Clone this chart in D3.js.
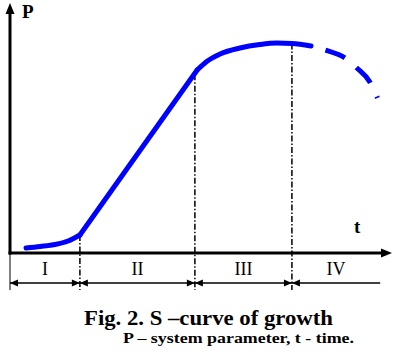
<!DOCTYPE html>
<html><head><meta charset="utf-8">
<script src="https://cdn.jsdelivr.net/npm/d3@7"></script>
<style>body{margin:0;background:#fff}svg{display:block}</style>
</head><body>
<script>
// Data: stage I (toe), stage II (straight growth), stage III (saturation), stage IV (decline, dashed)
const toeT = [4.2, 7.9, 11.8, 15.2, 18.3];
const toeP = [2.0, 2.6, 3.4, 4.8, 7.2];
const linT = [18.3, 49.0];
const linP = [7.2, 73.2];
const topT = [49.0, 51.5, 55.0, 60.2, 65.4, 69.9, 73.8, 78.8];
const topP = [73.2, 76.6, 79.6, 82.0, 83.4, 84.0, 83.8, 82.8];
const dashT = [78.8, 82.5, 87.7, 90.8, 94.2, 96.2];
const dashP = [82.8, 81.2, 78.0, 74.0, 68.4, 62.0];
const stageBounds = [0, 18.3, 48.4, 73.8];
const stageEnd = 96.9;
const stageLabels = ["I", "II", "III", "IV"];
const boundTopP = [7.2, 71.5, 83.8];
const axisLabels = {y: "P", x: "t"};
const caption1 = "Fig. 2. S \u2013curve of growth";
const caption2 = "P \u2013 system parameter, t - time.";

const W = 400, H = 358;
const svg = d3.select("body").append("svg").attr("width", W).attr("height", H);
const x = d3.scaleLinear().domain([0, 100]).range([10, 392]);
const y = d3.scaleLinear().domain([0, 100]).range([253, 3]);
const serif = "'Liberation Serif','Times New Roman',serif";
const blue = "#0000ff";

// axes
svg.append("line").attr("x1", x(0)).attr("y1", y(0) + 1.5).attr("x2", x(0)).attr("y2", y(100) + 8)
  .attr("stroke", "#000").attr("stroke-width", 3);
svg.append("path").attr("d", `M${x(0)},${y(100)} L${x(0)-4.5},${y(100)+11} L${x(0)+4.5},${y(100)+11}Z`).attr("fill", "#000");
svg.append("line").attr("x1", x(0) - 1.5).attr("y1", y(0)).attr("x2", x(100) - 8).attr("y2", y(0))
  .attr("stroke", "#000").attr("stroke-width", 3);
svg.append("path").attr("d", `M${x(100)},${y(0)} L${x(100)-11},${y(0)-4.5} L${x(100)-11},${y(0)+4.5}Z`).attr("fill", "#000");

svg.append("text").attr("x", 22).attr("y", 18).attr("font-family", serif).attr("font-weight", "bold")
  .attr("font-size", 19).text(axisLabels.y);
svg.append("text").attr("x", 354).attr("y", 233).attr("font-family", serif).attr("font-weight", "bold")
  .attr("font-size", 19).text(axisLabels.x);

// stage boundaries
const rowY = 283, botY = 290;
svg.append("line").attr("x1", x(0)).attr("x2", x(0)).attr("y1", y(0)).attr("y2", botY)
  .attr("stroke", "#000").attr("stroke-width", 1);
stageBounds.slice(1).forEach((b, i) => {
  svg.append("line").attr("x1", x(b)).attr("x2", x(b)).attr("y1", y(boundTopP[i])).attr("y2", botY)
    .attr("stroke", "#000").attr("stroke-width", 1.5).attr("stroke-dasharray", "6,2,1.5,2");
});

// double arrows
const ends = stageBounds.concat([stageEnd]);
for (let i = 0; i < 4; i++) {
  const a = x(ends[i]), b = x(ends[i + 1]);
  svg.append("line").attr("x1", a).attr("x2", b).attr("y1", rowY).attr("y2", rowY)
    .attr("stroke", "#000").attr("stroke-width", 1.3);
  svg.append("path").attr("d", `M${a},${rowY} L${a+8},${rowY-3.5} L${a+8},${rowY+3.5}Z`).attr("fill", "#000");
  if (i < 3) svg.append("path").attr("d", `M${b},${rowY} L${b-8},${rowY-3.5} L${b-8},${rowY+3.5}Z`).attr("fill", "#000");
  svg.append("text").attr("x", (a + b) / 2).attr("y", 275)
    .attr("text-anchor", "middle").attr("font-family", serif).attr("font-size", 18)
    .text(stageLabels[i]);
}

// curve
const smooth = d3.line().x(d => x(d[0])).y(d => y(d[1])).curve(d3.curveMonotoneX);
const straight = d3.line().x(d => x(d[0])).y(d => y(d[1]));
const solidStyle = p => p.attr("fill", "none").attr("stroke", blue).attr("stroke-width", 5)
  .attr("stroke-linecap", "round").attr("stroke-linejoin", "round");
svg.append("path").attr("d", smooth(d3.zip(toeT, toeP))).call(solidStyle);
svg.append("path").attr("d", straight(d3.zip(linT, linP))).call(solidStyle);
svg.append("path").attr("d", smooth(d3.zip(topT, topP))).call(solidStyle);
svg.append("path").attr("d", smooth(d3.zip(dashT, dashP))).attr("fill", "none")
  .attr("stroke", blue).attr("stroke-width", 5).attr("stroke-dasharray", "21,15").attr("stroke-dashoffset", 21);

// captions
svg.append("text").attr("x", 84).attr("y", 325).attr("font-family", serif)
  .attr("font-weight", "bold").attr("font-size", 20)
  .attr("textLength", 249).attr("lengthAdjust", "spacingAndGlyphs").text(caption1);
svg.append("text").attr("x", 123).attr("y", 343).attr("font-family", serif)
  .attr("font-weight", "bold").attr("font-size", 14)
  .attr("textLength", 231).attr("lengthAdjust", "spacingAndGlyphs").text(caption2);
</script>
</body></html>
